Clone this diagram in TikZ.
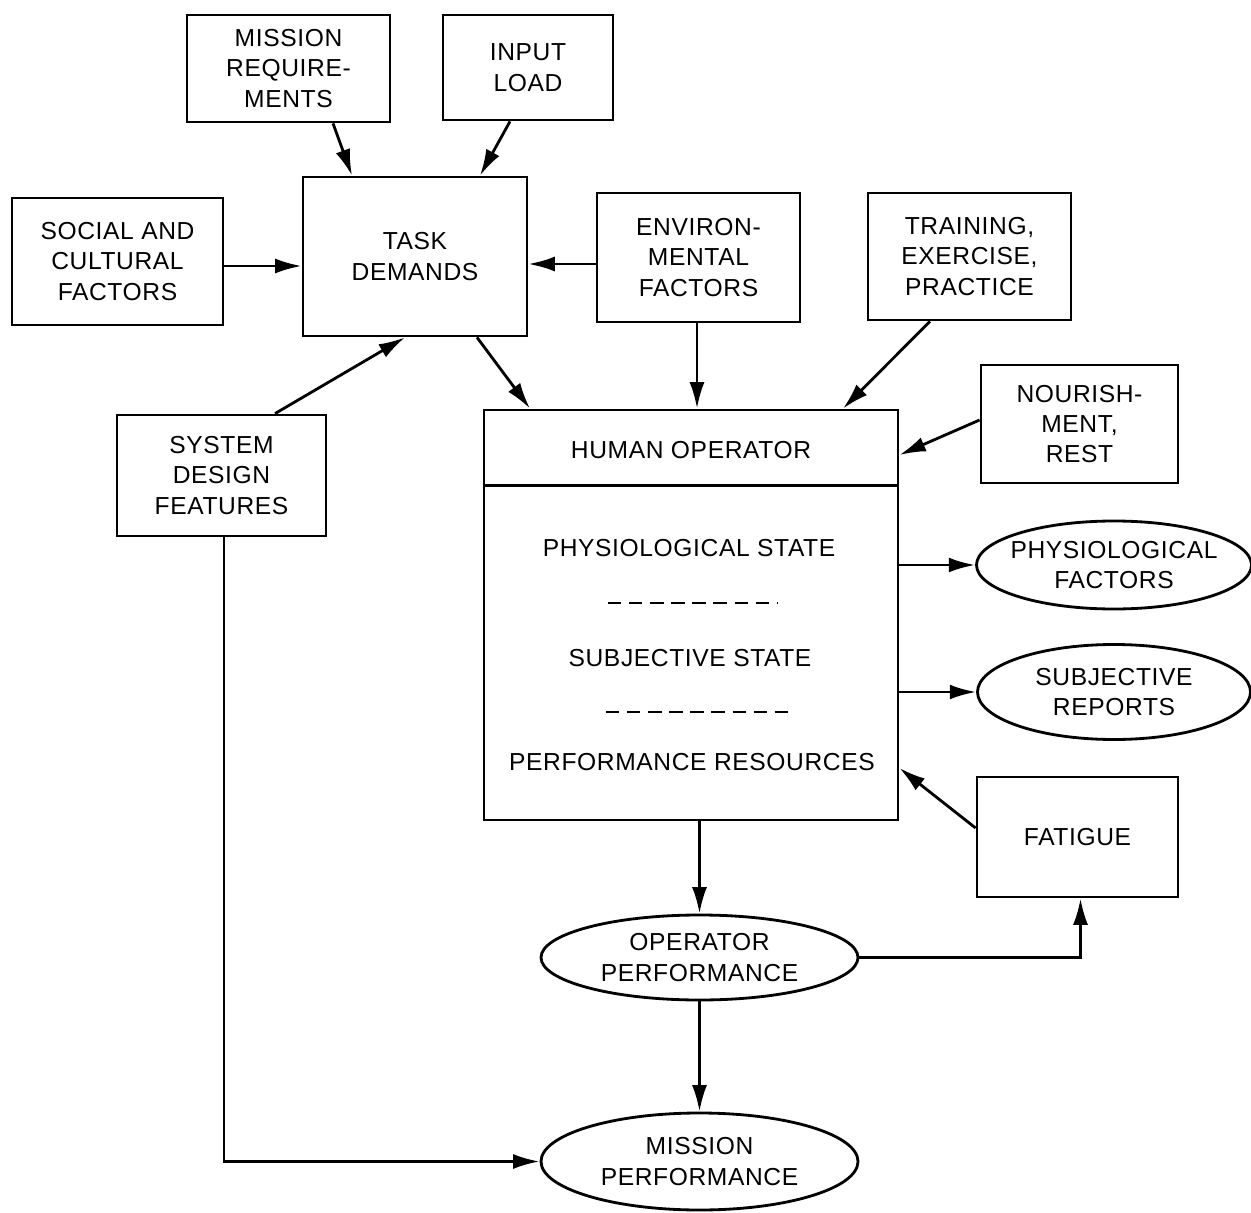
\documentclass[tikz,border=0pt]{standalone}
\usepackage{fontspec}
\setmainfont[LetterSpace=2.5]{Liberation Sans}
\usetikzlibrary{shapes.geometric,arrows.meta,calc}
\tikzset{
  box/.style={draw, line width=1.6pt, align=center, inner sep=0pt},
  oval/.style={ellipse, draw, line width=1.6pt, inner sep=0pt},
  arr/.style={-{Latex[length=15pt,width=8.5pt]}, line width=1.6pt},
  plain/.style={line width=1.6pt},
  txt/.style={align=center, inner sep=1pt},
  dashline/.style={line width=1.4pt, dash pattern=on 7.6pt off 4.4pt}
}
\begin{document}
\begin{tikzpicture}[x=0.02cm, y=-0.02cm, font=\fontsize{14}{17.3}\selectfont]
\useasboundingbox (0,0) rectangle (1251,1213);

\node[box, minimum width=203*0.02cm, minimum height=107*0.02cm] (mreq) at (288.5,68.5) {MISSION\\REQUIRE-\\MENTS};
\node[box, minimum width=170*0.02cm, minimum height=105*0.02cm] (input) at (528,67.5) {INPUT\\LOAD};
\node[box, minimum width=211*0.02cm, minimum height=127*0.02cm] (social) at (117.5,261.5) {SOCIAL AND\\CULTURAL\\FACTORS};
\node[box, minimum width=224*0.02cm, minimum height=159*0.02cm] (task) at (415,256.5) {TASK\\DEMANDS};
\node[box, minimum width=203*0.02cm, minimum height=129*0.02cm] (env) at (698.5,257.5) {ENVIRON-\\MENTAL\\FACTORS};
\node[box, minimum width=203*0.02cm, minimum height=127*0.02cm] (train) at (969.5,256.5) {TRAINING,\\EXERCISE,\\PRACTICE};
\node[box, minimum width=197*0.02cm, minimum height=118*0.02cm] (nour) at (1079.5,424) {NOURISH-\\MENT,\\REST};
\node[box, minimum width=209*0.02cm, minimum height=121*0.02cm] (sys) at (221.5,475.5) {SYSTEM\\DESIGN\\FEATURES};
\node[box, minimum width=414*0.02cm, minimum height=410*0.02cm] (ho) at (691,615) {};
\node[box, minimum width=201*0.02cm, minimum height=120*0.02cm] (fatigue) at (1077.5,837) {FATIGUE};

\node[oval, minimum width=275*0.02cm, minimum height=88*0.02cm, label={[txt]center:PHYSIOLOGICAL\\FACTORS}] (phys) at (1114,565) {};
\node[oval, minimum width=273*0.02cm, minimum height=95*0.02cm, label={[txt]center:SUBJECTIVE\\REPORTS}] (subj) at (1114,692) {};
\node[oval, minimum width=317*0.02cm, minimum height=85*0.02cm, label={[txt]center:OPERATOR\\PERFORMANCE}] (opperf) at (699.5,957.5) {};
\node[oval, minimum width=317*0.02cm, minimum height=97*0.02cm, label={[txt]center:MISSION\\PERFORMANCE}] (misperf) at (699.5,1161.5) {};

% Human operator contents
\draw[plain] ($(ho.north west)+(0,77)$) -- ($(ho.north east)+(0,77)$);
\node[txt] (hotitle) at (691,450) {HUMAN OPERATOR};
\node[txt] (hophys) at (689,548) {PHYSIOLOGICAL STATE};
\node[txt] (hosubj) at (690,658) {SUBJECTIVE STATE};
\node[txt] (hoperf) at (692,762) {PERFORMANCE RESOURCES};
\draw[dashline] (608,603) -- (778,603);
\draw[dashline] (606,712) -- (789,712);

% connectors
\draw[arr] ($(mreq.south)+(44.5,0)$) -- ($(task.north)+(-63,0)$);
\draw[arr] ($(input.south)+(-18,0)$) -- ($(task.north)+(65,0)$);
\draw[arr] ($(social.east)+(0,4.5)$) -- ($(task.west)+(0,9.5)$);
\draw[arr] ($(env.west)+(0,6.5)$) -- ($(task.east)+(0,7.5)$);
\draw[arr] ($(sys.north)+(53.5,0)$) -- ($(task.south)+(-10,0)$);
\draw[arr] ($(task.south)+(62,0)$) -- ($(ho.north)+(-161,0)$);
\draw[arr] ($(env.south)+(-1.5,0)$) -- ($(ho.north)+(6,0)$);
\draw[arr] ($(train.south)+(-39.5,0)$) -- ($(ho.north)+(152,0)$);
\draw[arr] ($(nour.west)+(0,-4)$) -- ($(ho.east)+(0,-160)$);
\draw[arr] ($(ho.east)+(0,-50)$) -- (phys.west);
\draw[arr] ($(ho.east)+(0,77)$) -- (subj.west);
\draw[arr] ($(fatigue.west)+(0,-9)$) -- ($(ho.east)+(0,153)$);
\draw[arr] (opperf.north |- ho.south) -- (opperf.north);
\draw[arr] (opperf.east) -| ($(fatigue.south)+(3,0)$);
\draw[arr] (opperf.south) -- (misperf.north);
\draw[arr] ($(sys.south)+(2.5,0)$) |- (misperf.west);
\end{tikzpicture}
\end{document}
